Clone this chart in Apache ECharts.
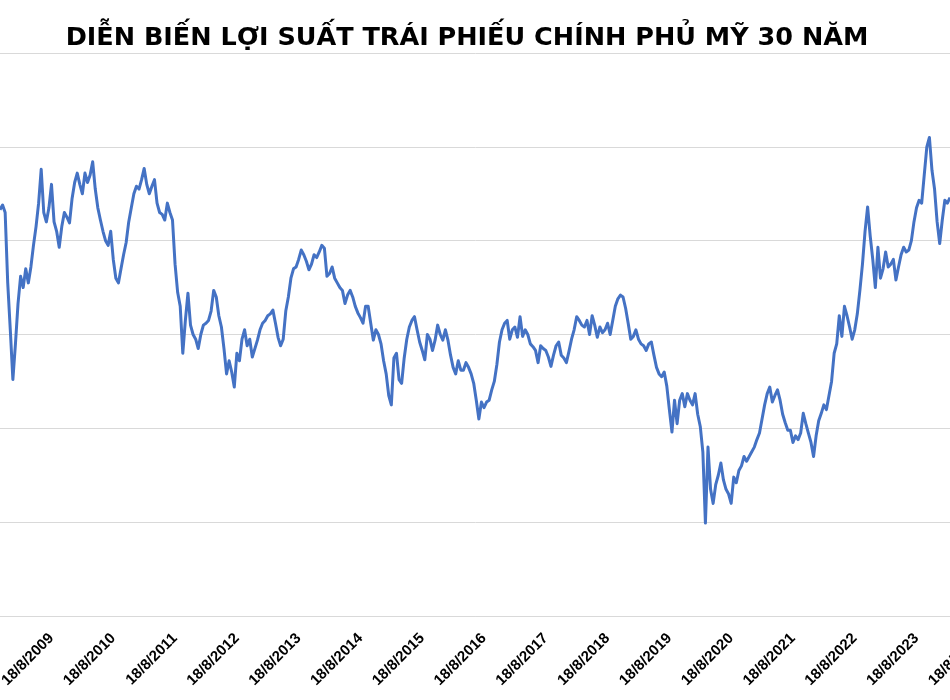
<!DOCTYPE html>
<html>
<head>
<meta charset="utf-8">
<title>Lợi suất trái phiếu chính phủ Mỹ 30 năm</title>
<script src="https://cdn.jsdelivr.net/npm/echarts@6/dist/echarts.min.js"></script>
<style>
  html, body { margin: 0; padding: 0; background: #fff; }
  #chart { width: 950px; height: 700px; }
</style>
</head>
<body>
<div id="chart"></div>
<script>
// Tiêu đề biểu đồ
const chartTitle = 'DIỄN BIẾN LỢI SUẤT TRÁI PHIẾU CHÍNH PHỦ MỸ 30 NĂM'

// Ngày bắt đầu / kết thúc của trục X (nửa tháng một điểm)
const startYear = 2008
const startMonth = 10
const endLabel = '18/8/2024'
const dayPoints = [3, 18]

// Nhãn trục X chỉ hiện ở ngày 18/8 mỗi năm
const labelPrefix = '18/8/'

// Lợi suất (%), mỗi dòng 24 điểm, bắt đầu từ 18/10/2008
const yields = [
  4.33, 4.38, 4.30, 3.55, 3.05, 2.52, 2.90, 3.33, 3.62, 3.50, 3.70, 3.55, 3.72, 3.95, 4.15, 4.40, 4.76, 4.30, 4.20, 4.35, 4.60, 4.20, 4.10, 3.93,
  4.15, 4.30, 4.25, 4.19, 4.45, 4.62, 4.72, 4.60, 4.50, 4.72, 4.62, 4.70, 4.84, 4.55, 4.35, 4.22, 4.10, 4.00, 3.95, 4.10, 3.80, 3.60, 3.55, 3.70,
  3.85, 3.98, 4.20, 4.35, 4.50, 4.58, 4.55, 4.65, 4.77, 4.60, 4.50, 4.58, 4.65, 4.40, 4.30, 4.28, 4.22, 4.40, 4.30, 4.22, 3.75, 3.45, 3.30, 2.80,
  3.15, 3.44, 3.10, 3.00, 2.95, 2.85, 3.00, 3.10, 3.12, 3.15, 3.25, 3.47, 3.40, 3.20, 3.08, 2.85, 2.58, 2.72, 2.60, 2.44, 2.80, 2.72, 2.95, 3.05,
  2.88, 2.95, 2.76, 2.85, 2.94, 3.05, 3.12, 3.15, 3.20, 3.22, 3.26, 3.12, 2.97, 2.88, 2.95, 3.25, 3.40, 3.60, 3.70, 3.72, 3.80, 3.90, 3.85, 3.78,
  3.69, 3.75, 3.85, 3.82, 3.88, 3.95, 3.92, 3.62, 3.65, 3.72, 3.60, 3.55, 3.50, 3.47, 3.33, 3.42, 3.47, 3.40, 3.30, 3.23, 3.18, 3.12, 3.30, 3.30,
  3.12, 2.94, 3.05, 3.00, 2.90, 2.72, 2.58, 2.35, 2.25, 2.75, 2.80, 2.52, 2.48, 2.75, 2.95, 3.08, 3.15, 3.19, 3.05, 2.92, 2.83, 2.73, 3.00, 2.95,
  2.83, 2.94, 3.10, 3.00, 2.94, 3.05, 2.94, 2.78, 2.65, 2.58, 2.72, 2.62, 2.62, 2.70, 2.65, 2.58, 2.48, 2.30, 2.10, 2.28, 2.22, 2.28, 2.30, 2.41,
  2.50, 2.68, 2.92, 3.05, 3.12, 3.15, 2.95, 3.05, 3.08, 2.97, 3.19, 2.98, 3.05, 3.00, 2.90, 2.87, 2.83, 2.70, 2.88, 2.85, 2.83, 2.76, 2.66, 2.78,
  2.88, 2.92, 2.78, 2.75, 2.70, 2.82, 2.95, 3.05, 3.19, 3.15, 3.10, 3.08, 3.15, 3.00, 3.20, 3.10, 2.97, 3.08, 3.02, 3.05, 3.12, 3.00, 3.15, 3.30,
  3.38, 3.42, 3.40, 3.28, 3.12, 2.95, 2.98, 3.05, 2.95, 2.90, 2.88, 2.83, 2.90, 2.92, 2.78, 2.65, 2.58, 2.55, 2.60, 2.45, 2.20, 1.96, 2.30, 2.05,
  2.30, 2.37, 2.23, 2.37, 2.30, 2.25, 2.37, 2.15, 2.02, 1.75, 0.99, 1.80, 1.35, 1.20, 1.40, 1.50, 1.63, 1.45, 1.35, 1.30, 1.20, 1.48, 1.42, 1.55,
  1.60, 1.70, 1.65, 1.70, 1.75, 1.80, 1.88, 1.95, 2.10, 2.25, 2.37, 2.44, 2.28, 2.35, 2.41, 2.30, 2.15, 2.06, 1.98, 1.98, 1.85, 1.92, 1.88, 1.95,
  2.16, 2.05, 1.95, 1.85, 1.70, 1.92, 2.08, 2.16, 2.25, 2.20, 2.35, 2.50, 2.80, 2.90, 3.20, 2.98, 3.30, 3.20, 3.08, 2.95, 3.05, 3.22, 3.47, 3.75,
  4.10, 4.36, 4.05, 3.80, 3.50, 3.93, 3.60, 3.70, 3.88, 3.72, 3.75, 3.80, 3.58, 3.72, 3.85, 3.93, 3.88, 3.90, 4.00, 4.20, 4.35, 4.43, 4.40, 4.70,
  5.00, 5.10, 4.75, 4.55, 4.20, 3.97, 4.22, 4.43, 4.40, 4.46
]

// Mức lưới trục Y (%)
const yMin = 0
const yMax = 6
const yStep = 1

// Tạo danh sách ngày dạng d/m/yyyy, từ 18/10/2008 đến endLabel
const buildDates = () => {
  const dates = []
  let y = startYear
  let m = startMonth
  let k = 1 // bắt đầu ở ngày 18
  while (true) {
    const d = `${dayPoints[k]}/${m}/${y}`
    dates.push(d)
    if (d === endLabel || dates.length > 2000) break
    k++
    if (k >= dayPoints.length) {
      k = 0
      m++
      if (m > 12) {
        m = 1
        y++
      }
    }
  }
  return dates
}

const dates = buildDates()

// Mỗi khoảng nửa tháng rộng ~2.575px; phần trục sau điểm dữ liệu cuối nằm ngoài khung
const stepPx = 950 / (yields.length - 1)
const overflowPx = (dates.length - yields.length) * stepPx

const chart = echarts.init(document.getElementById('chart'), null, { renderer: 'canvas' })

const option = {
  animation: false,
  backgroundColor: '#ffffff',
  title: {
    text: chartTitle,
    left: 462,
    textAlign: 'center',
    top: 20,
    textStyle: {
      fontFamily: 'DejaVu Sans, Verdana, sans-serif',
      fontWeight: 'bold',
      fontSize: 25.5,
      color: '#000000'
    }
  },
  grid: {
    left: 0,
    right: -overflowPx,
    top: 53,
    bottom: 84,
    containLabel: false,
    outerBoundsMode: 'none'
  },
  xAxis: {
    type: 'category',
    data: dates,
    boundaryGap: false,
    axisLine: { show: true, lineStyle: { color: '#d9d9d9', width: 1 } },
    axisTick: { show: false },
    splitLine: { show: false },
    axisLabel: {
      interval: (idx, val) => val.startsWith(labelPrefix),
      rotate: 45,
      margin: 20,
      fontFamily: 'Liberation Sans, Arial, sans-serif',
      fontWeight: 'bold',
      fontSize: 15,
      color: '#000000',
      hideOverlap: false
    }
  },
  yAxis: {
    type: 'value',
    min: yMin,
    max: yMax,
    interval: yStep,
    axisLine: { show: false },
    axisTick: { show: false },
    axisLabel: { show: false },
    splitLine: { show: true, lineStyle: { color: '#d9d9d9', width: 1 } }
  },
  series: [
    {
      name: 'Lợi suất 30 năm',
      type: 'line',
      data: yields,
      showSymbol: false,
      symbol: 'none',
      smooth: false,
      lineStyle: { color: '#4472c4', width: 3, join: 'round' },
      itemStyle: { color: '#4472c4' }
    }
  ]
}

chart.setOption(option)
</script>
</body>
</html>
